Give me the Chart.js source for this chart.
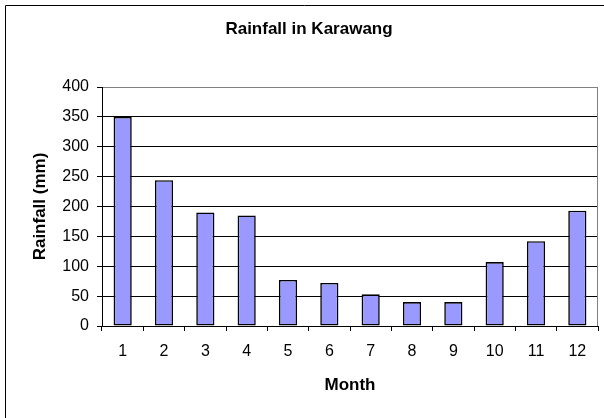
<!DOCTYPE html>
<html>
<head>
<meta charset="utf-8">
<title>Rainfall in Karawang</title>
<script src="https://cdn.jsdelivr.net/npm/chart.js@4/dist/chart.umd.min.js"></script>
<style>
   html, body { margin: 0; padding: 0; background: #fff; }
   #wrap { position: relative; width: 604px; height: 418px; }
</style>
</head>
<body>
<div id="wrap"><canvas id="rainChart" width="604" height="418"></canvas></div>
<script>
'use strict';

var months = ['1', '2', '3', '4', '5', '6', '7', '8', '9', '10', '11', '12'];
var rainfall = [350, 244, 190, 185, 77, 72, 53, 40, 40, 107, 142, 193];
var yTicks = [0, 50, 100, 150, 200, 250, 300, 350, 400];

var fontFamily = "'Liberation Sans', Arial, sans-serif";

// outer frame (cut off on the right and bottom) and the grey plot border
var framePlugin = {
   id: 'frame',
   beforeDraw: function(chart) {
      var ctx = chart.ctx;
      ctx.save();
      ctx.fillStyle = '#fff';
      ctx.fillRect(0, 0, chart.width, chart.height);
      ctx.strokeStyle = '#000';
      ctx.lineWidth = 1;
      ctx.beginPath();
      ctx.moveTo(5.5, chart.height);
      ctx.lineTo(5.5, 5.5);
      ctx.lineTo(chart.width, 5.5);
      ctx.stroke();
      ctx.restore();
   },
   afterDraw: function(chart) {
      var a = chart.chartArea;
      var ctx = chart.ctx;
      ctx.save();
      ctx.strokeStyle = '#808080';
      ctx.lineWidth = 1;
      ctx.beginPath();
      ctx.moveTo(Math.round(a.right) - 0.5, a.top);
      ctx.lineTo(Math.round(a.right) - 0.5, a.bottom);
      ctx.stroke();
      ctx.restore();
   }
};

var ctx = document.getElementById('rainChart');
var rainChart = new Chart(ctx, {
   type: 'bar',
   data: {
      labels: months,
      datasets: [{
         data: rainfall,
         backgroundColor: '#9999ff',
         borderColor: '#000',
         borderWidth: 1.6,
         borderSkipped: false,
         categoryPercentage: 0.8,
         barPercentage: 0.55
      }]
   },
   plugins: [framePlugin],
   options: {
      responsive: false,
      animation: false,
      layout: {
         padding: { left: 20, right: 6, top: 0, bottom: 0 }
      },
      plugins: {
         legend: { display: false },
         tooltip: { enabled: false },
         title: {
            display: true,
            text: 'Rainfall in Karawang',
            color: '#000',
            font: { family: fontFamily, size: 17, weight: 'bold' },
            padding: { top: 19, bottom: 47.6 }
         }
      },
      scales: {
         x: {
            offset: true,
            grid: {
               offset: true,
               drawOnChartArea: false,
               drawTicks: true,
               tickLength: 5,
               color: '#000'
            },
            border: { display: true, color: '#000' },
            ticks: {
               color: '#000',
               padding: 11,
               maxRotation: 0,
               font: { family: fontFamily, size: 16 }
            },
            title: {
               display: true,
               text: 'Month',
               color: '#000',
               font: { family: fontFamily, size: 17, weight: 'bold' },
               padding: { top: 0, bottom: 22 }
            },
            afterFit: function(scale) {
               scale.height = 92;
            }
         },
         y: {
            min: 0,
            max: 400,
            afterBuildTicks: function(scale) {
               scale.ticks = yTicks.map(function(v) {
                  return { value: v };
               });
            },
            grid: {
               drawTicks: true,
               tickLength: 5,
               color: function(c) {
                  return c.tick && c.tick.value === 400 ? '#808080' : '#000';
               },
               tickColor: '#000'
            },
            border: { display: true, color: '#000' },
            ticks: {
               color: '#000',
               padding: 8,
               font: { family: fontFamily, size: 16 }
            },
            title: {
               display: true,
               text: 'Rainfall (mm)',
               color: '#000',
               font: { family: fontFamily, size: 17, weight: 'bold' },
               padding: { top: 10, bottom: 0 }
            },
            afterFit: function(scale) {
               scale.width = 82;
            }
         }
      }
   }
});
</script>
</body>
</html>
